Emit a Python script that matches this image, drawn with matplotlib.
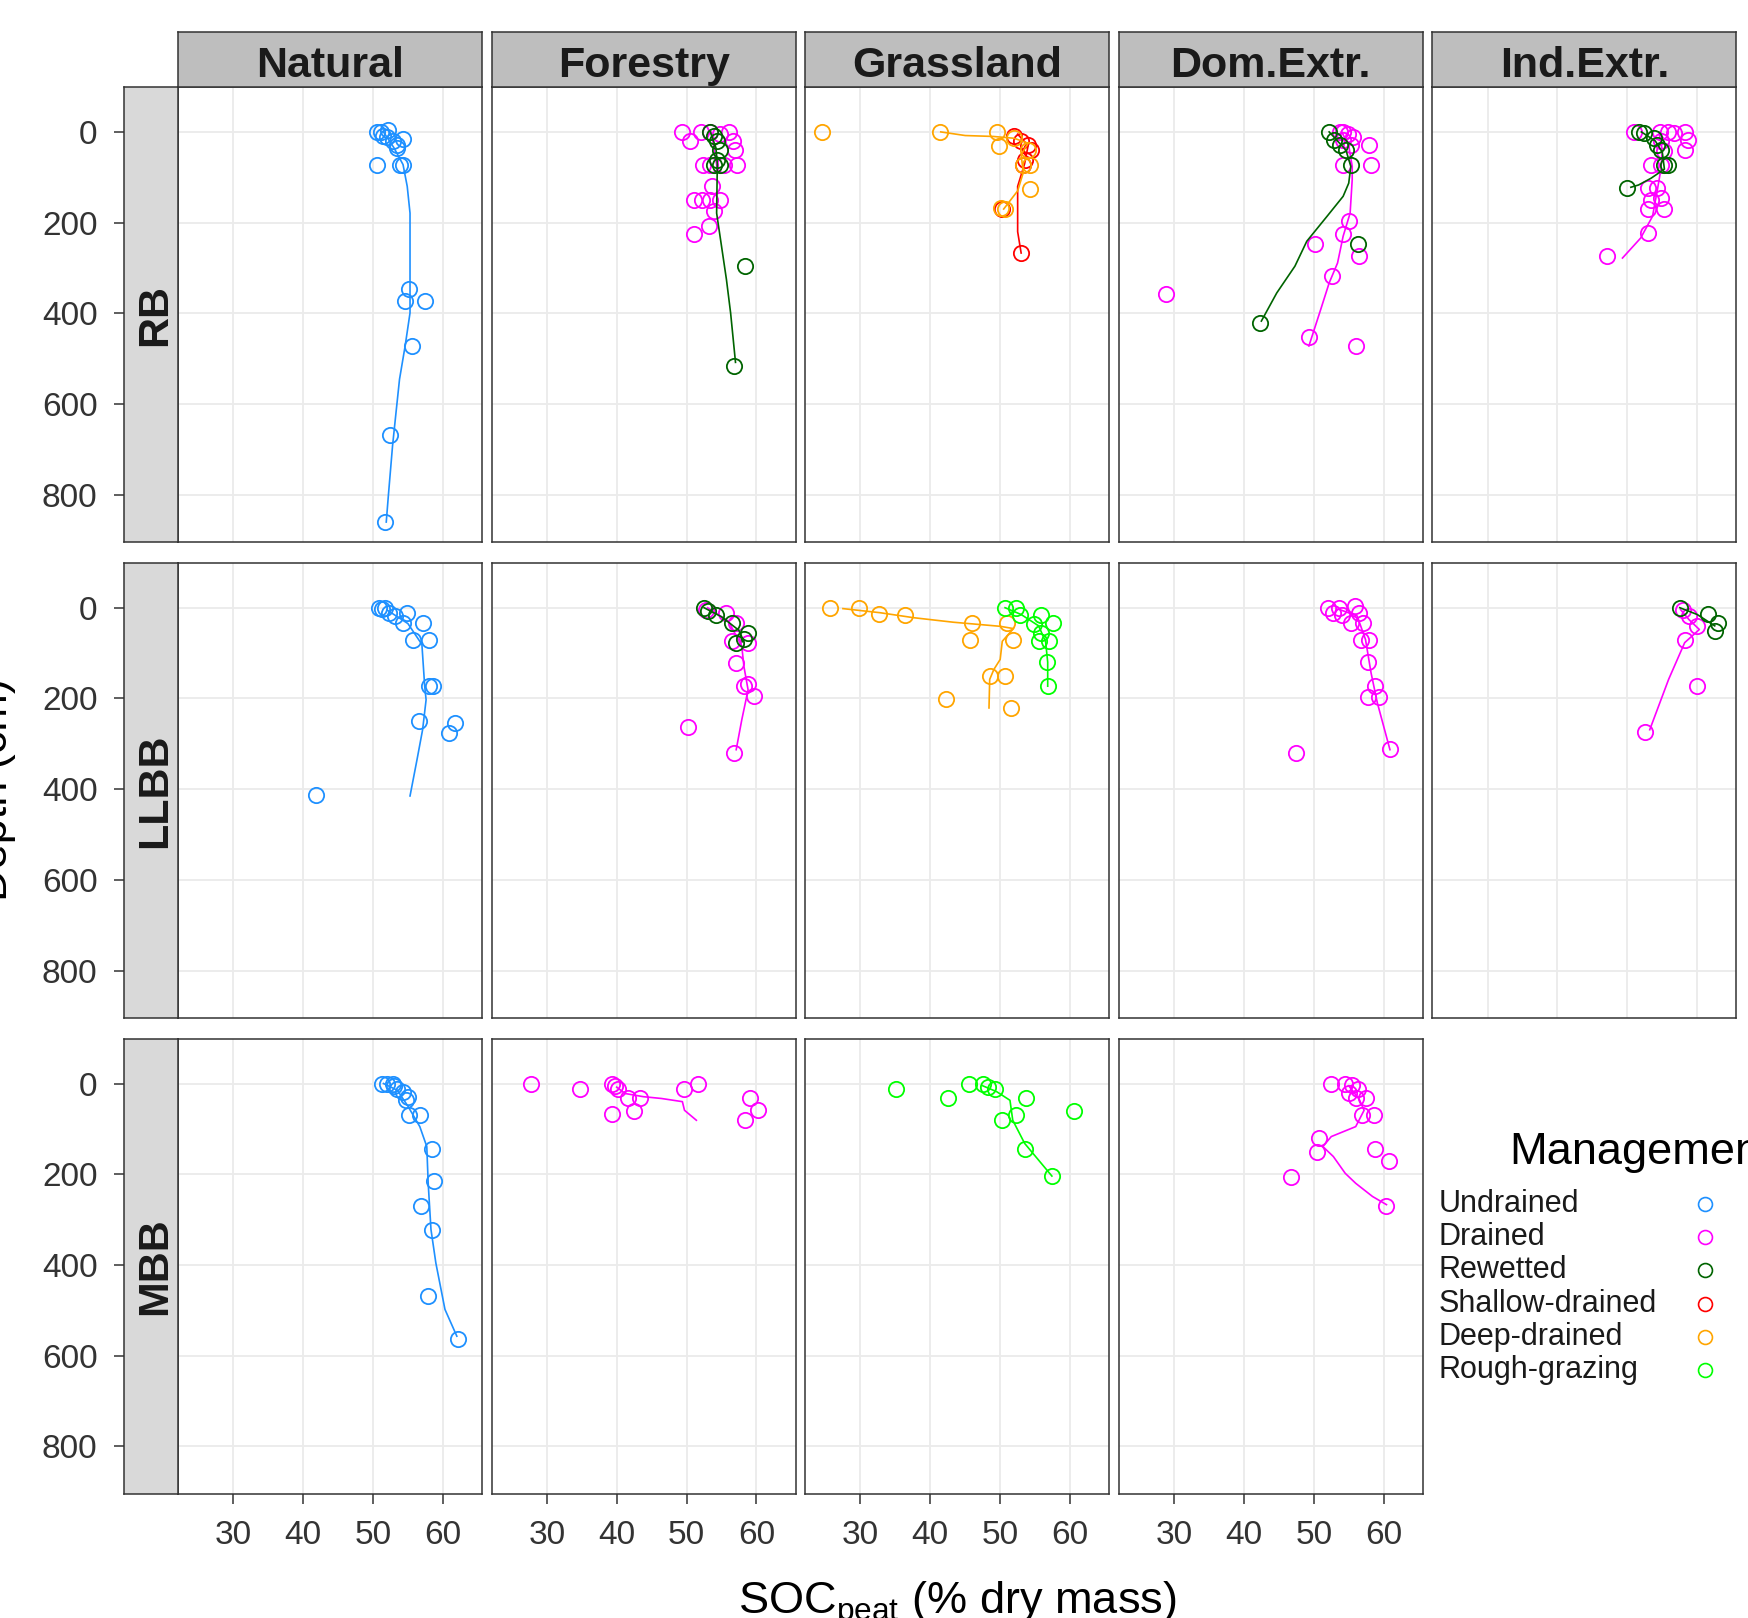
import matplotlib
matplotlib.use("Agg")
import matplotlib.pyplot as plt

plt.rcParams['font.family'] = ['Liberation Sans', 'DejaVu Sans']
plt.rcParams['mathtext.fontset'] = 'custom'
plt.rcParams['mathtext.rm'] = 'Liberation Sans'

# facets
rows = ["RB", "LLBB", "MBB"]
cols = ["Natural", "Forestry", "Grassland", "Dom.Extr.", "Ind.Extr."]
managements = ["Undrained", "Drained", "Rewetted", "Shallow-drained", "Deep-drained", "Rough-grazing"]
colours = ["#1E90FF", "#FF00FF", "#006400", "#FF0000", "#FFA500", "#00FF00"]
x_ticks = [30, 40, 50, 60]
y_ticks = [0, 200, 400, 600, 800]

# ---- RB ----
rb_nat_und_soc = [50.6, 51.2, 52.2, 51.5, 52.0, 52.8, 53.4, 54.3, 53.4, 50.6, 53.9, 54.3, 55.1, 54.6, 57.4, 55.6, 52.4, 51.7]
rb_nat_und_dep = [0, 0, -4, 8, 12, 20, 28, 15, 35, 73, 73, 73, 347, 373, 373, 472, 668, 859]
rb_nat_und_fit_soc = [51.5, 53.0, 54.3, 54.9, 55.3, 55.3, 54.6, 53.8, 53.3, 52.8, 52.2, 51.9]
rb_nat_und_fit_dep = [0, 35, 72, 120, 179, 399, 472, 545, 618, 692, 802, 860]

rb_for_dra_soc = [49.3, 50.5, 52.0, 53.4, 54.8, 56.0, 56.7, 57.0, 57.2, 55.3, 53.4, 52.4, 53.6, 51.0, 52.2, 54.8, 53.4, 53.9, 53.2, 51.0]
rb_for_dra_dep = [0, 21, 0, 0, 5, 0, 21, 39, 72, 72, 72, 72, 120, 149, 149, 149, 149, 175, 208, 224]
rb_for_dra_fit_soc = [53.5, 54.0, 54.3]
rb_for_dra_fit_dep = [0, 40, 72]
rb_for_rew_soc = [53.4, 53.9, 54.4, 54.8, 54.4, 53.9, 54.8, 58.4, 56.8]
rb_for_rew_dep = [0, 10, 21, 39, 61, 72, 72, 296, 516]
rb_for_rew_fit_soc = [53.4, 54.2, 54.4, 54.3, 55.0, 55.7, 56.3, 57.0]
rb_for_rew_fit_dep = [0, 35, 70, 179, 252, 325, 399, 508]

rb_gra_sha_soc = [52.0, 53.0, 54.0, 54.4, 53.5, 53.2, 53.0, 50.3]
rb_gra_sha_dep = [8, 21, 28, 39, 61, 72, 267, 171]
rb_gra_sha_fit_soc = [52.5, 54.0, 53.5, 52.5, 52.5, 53.0]
rb_gra_sha_fit_dep = [5, 30, 70, 120, 220, 267]
rb_gra_dee_soc = [24.5, 41.4, 49.5, 49.9, 52.0, 54.0, 54.2, 53.2, 54.2, 50.1, 50.7]
rb_gra_dee_dep = [0, 0, 0, 32, 14, 40, 73, 73, 126, 168, 171]
rb_gra_dee_fit_soc = [41.5, 45.0, 49.0, 52.0, 54.0, 53.0, 53.3, 52.5, 50.5]
rb_gra_dee_fit_dep = [0, 8, 10, 14, 25, 50, 90, 130, 170]

rb_dom_dra_soc = [53.8, 54.2, 54.9, 55.6, 54.2, 55.3, 57.9, 54.2, 58.2, 55.0, 54.2, 56.5, 50.2, 52.6, 49.3, 56.0, 28.8]
rb_dom_dra_dep = [0, 0, 4, 11, 18, 28, 28, 72, 72, 197, 224, 274, 248, 318, 453, 472, 358]
rb_dom_dra_fit_soc = [54.0, 55.0, 55.5, 55.5, 55.2, 54.2, 53.4, 52.2, 51.0, 49.3]
rb_dom_dra_fit_dep = [0, 30, 76, 105, 179, 230, 289, 333, 391, 472]
rb_dom_rew_soc = [52.2, 52.9, 53.8, 54.6, 55.3, 56.3, 42.3]
rb_dom_rew_dep = [0, 18, 28, 40, 72, 248, 421]
rb_dom_rew_fit_soc = [52.2, 54.6, 55.3, 55.0, 54.2, 51.9, 49.0, 47.3, 44.7, 42.5]
rb_dom_rew_fit_dep = [0, 40, 76, 113, 142, 186, 241, 296, 355, 417]

rb_ind_dra_soc = [51.0, 54.6, 55.8, 56.7, 58.2, 58.7, 58.2, 54.8, 55.3, 53.4, 54.8, 52.9, 54.3, 54.8, 53.4, 52.9, 55.3, 52.9, 47.1]
rb_ind_dra_dep = [0, 0, 0, 2, 0, 18, 39, 21, 42, 72, 72, 124, 124, 146, 149, 171, 171, 223, 273]
rb_ind_dra_fit_soc = [54.5, 55.0, 54.8, 54.3, 53.6, 51.9, 49.3]
rb_ind_dra_fit_dep = [0, 40, 82, 127, 186, 234, 278]
rb_ind_rew_soc = [51.7, 52.4, 53.8, 54.3, 54.8, 55.3, 55.8, 50.0]
rb_ind_rew_dep = [0, 2, 14, 28, 39, 72, 72, 124]
rb_ind_rew_fit_soc = [52.0, 54.0, 55.0, 55.3, 53.4, 51.6, 50.5]
rb_ind_rew_fit_dep = [0, 20, 45, 82, 102, 117, 122]

# ---- LLBB ----
ll_nat_und_soc = [50.8, 51.7, 51.3, 52.3, 53.1, 54.8, 54.3, 57.1, 55.7, 58.0, 58.0, 58.6, 56.6, 61.7, 60.9, 41.9]
ll_nat_und_dep = [0, 0, 3, 11, 18, 11, 33, 33, 72, 72, 173, 173, 250, 254, 276, 412]
ll_nat_und_fit_soc = [52.0, 55.0, 57.0, 57.4, 57.6, 57.1, 56.3, 55.3]
ll_nat_und_fit_dep = [5, 35, 81, 173, 203, 269, 335, 415]

ll_for_dra_soc = [52.8, 55.6, 57.1, 56.5, 58.8, 57.1, 58.8, 58.2, 59.7, 50.2, 56.8]
ll_for_dra_dep = [4, 11, 33, 74, 77, 122, 169, 173, 195, 264, 320]
ll_for_dra_fit_soc = [53.0, 56.0, 57.9, 58.2, 58.8, 57.9, 57.1]
ll_for_dra_fit_dep = [0, 30, 85, 129, 181, 247, 313]
ll_for_rew_soc = [52.5, 53.1, 54.2, 56.5, 58.8, 57.1, 58.2]
ll_for_rew_dep = [0, 7, 15, 33, 55, 77, 70]
ll_for_rew_fit_soc = [52.5, 55.0, 57.5, 58.0]
ll_for_rew_fit_dep = [0, 20, 50, 75]

ll_gra_dee_soc = [25.7, 29.8, 32.6, 36.4, 46.0, 45.7, 51.0, 51.8, 48.5, 50.7, 42.3, 51.6]
ll_gra_dee_dep = [0, 0, 13, 15, 33, 72, 33, 72, 150, 150, 201, 221]
ll_gra_dee_fit_soc = [27.5, 32.8, 37.6, 43.3, 50.0, 51.9, 50.3, 50.0, 49.1, 48.5, 48.4]
ll_gra_dee_fit_dep = [2, 11, 22, 32, 41, 46, 74, 114, 136, 158, 221]
ll_gra_rou_soc = [50.7, 52.2, 52.9, 55.8, 57.5, 54.8, 55.8, 55.5, 57.0, 56.7, 56.8]
ll_gra_rou_dep = [0, 0, 15, 15, 33, 37, 55, 74, 74, 120, 173]
ll_gra_rou_fit_soc = [50.7, 53.0, 55.5, 56.5, 56.8, 56.8]
ll_gra_rou_fit_dep = [0, 15, 40, 75, 120, 173]

ll_dom_dra_soc = [52.1, 53.6, 55.9, 52.7, 54.1, 56.5, 55.3, 57.1, 56.8, 57.9, 57.8, 58.7, 57.7, 59.4, 60.9, 47.5]
ll_dom_dra_dep = [0, 0, -3, 11, 15, 11, 33, 33, 72, 72, 120, 173, 197, 197, 312, 320]
ll_dom_dra_fit_soc = [53.5, 56.2, 57.4, 58.2, 59.1, 60.9]
ll_dom_dra_fit_dep = [3, 18, 70, 144, 210, 313]

ll_ind_dra_soc = [57.9, 58.8, 60.0, 58.2, 60.0, 52.5]
ll_ind_dra_dep = [4, 18, 41, 72, 173, 273]
ll_ind_dra_fit_soc = [57.6, 58.8, 60.3, 58.2, 55.9, 53.2]
ll_ind_dra_fit_dep = [4, 26, 48, 77, 158, 269]
ll_ind_rew_soc = [57.5, 61.5, 62.9, 62.6]
ll_ind_rew_dep = [0, 13, 33, 52]
ll_ind_rew_fit_soc = [57.5, 60.0, 62.5]
ll_ind_rew_fit_dep = [0, 15, 40]

# ---- MBB ----
mb_nat_und_soc = [51.3, 52.0, 52.8, 53.0, 53.4, 54.3, 55.0, 54.7, 55.1, 56.7, 58.4, 58.7, 56.9, 58.4, 57.9, 62.1]
mb_nat_und_dep = [0, 2, 0, 6, 11, 18, 29, 37, 70, 70, 145, 216, 270, 322, 469, 563]
mb_nat_und_fit_soc = [51.5, 53.5, 55.0, 56.7, 57.7, 57.9, 58.3, 59.0, 60.3, 62.0]
mb_nat_und_fit_dep = [0, 15, 50, 95, 139, 220, 322, 396, 498, 557]

mb_for_dra_soc = [27.8, 34.7, 39.3, 39.7, 40.2, 41.6, 43.4, 42.5, 39.3, 49.7, 51.6, 59.1, 60.2, 58.3]
mb_for_dra_dep = [2, 13, 0, 6, 13, 33, 33, 61, 68, 13, 2, 31, 59, 81]
mb_for_dra_fit_soc = [40.0, 41.2, 43.8, 46.4, 49.4, 49.7, 51.4]
mb_for_dra_fit_dep = [8, 22, 29, 33, 40, 59, 81]

mb_gra_rou_soc = [35.1, 42.5, 45.6, 47.5, 48.3, 49.2, 53.7, 52.2, 50.3, 53.5, 57.4, 60.6]
mb_gra_rou_dep = [13, 31, 0, 0, 7, 13, 31, 70, 81, 145, 204, 60]
mb_gra_rou_fit_soc = [47.5, 49.5, 51.4, 51.8, 53.5, 57.4]
mb_gra_rou_fit_dep = [5, 18, 37, 81, 132, 204]

mb_dom_dra_soc = [52.5, 54.5, 55.4, 56.3, 55.1, 56.0, 57.5, 56.9, 58.6, 50.7, 50.4, 58.8, 60.7, 46.7, 60.4]
mb_dom_dra_dep = [2, 0, 4, 11, 22, 33, 33, 70, 70, 121, 150, 145, 170, 207, 270]
mb_dom_dra_fit_soc = [55.0, 56.5, 57.2, 56.0, 52.5, 51.3, 52.8, 54.5, 56.0, 58.4, 60.4]
mb_dom_dra_fit_dep = [5, 35, 59, 95, 117, 139, 161, 198, 220, 249, 267]

# (row, column, management, points soc, points depth, fit soc, fit depth)
series = [
    ("RB", "Natural", "Undrained", rb_nat_und_soc, rb_nat_und_dep, rb_nat_und_fit_soc, rb_nat_und_fit_dep),
    ("RB", "Forestry", "Drained", rb_for_dra_soc, rb_for_dra_dep, rb_for_dra_fit_soc, rb_for_dra_fit_dep),
    ("RB", "Forestry", "Rewetted", rb_for_rew_soc, rb_for_rew_dep, rb_for_rew_fit_soc, rb_for_rew_fit_dep),
    ("RB", "Grassland", "Shallow-drained", rb_gra_sha_soc, rb_gra_sha_dep, rb_gra_sha_fit_soc, rb_gra_sha_fit_dep),
    ("RB", "Grassland", "Deep-drained", rb_gra_dee_soc, rb_gra_dee_dep, rb_gra_dee_fit_soc, rb_gra_dee_fit_dep),
    ("RB", "Dom.Extr.", "Drained", rb_dom_dra_soc, rb_dom_dra_dep, rb_dom_dra_fit_soc, rb_dom_dra_fit_dep),
    ("RB", "Dom.Extr.", "Rewetted", rb_dom_rew_soc, rb_dom_rew_dep, rb_dom_rew_fit_soc, rb_dom_rew_fit_dep),
    ("RB", "Ind.Extr.", "Drained", rb_ind_dra_soc, rb_ind_dra_dep, rb_ind_dra_fit_soc, rb_ind_dra_fit_dep),
    ("RB", "Ind.Extr.", "Rewetted", rb_ind_rew_soc, rb_ind_rew_dep, rb_ind_rew_fit_soc, rb_ind_rew_fit_dep),
    ("LLBB", "Natural", "Undrained", ll_nat_und_soc, ll_nat_und_dep, ll_nat_und_fit_soc, ll_nat_und_fit_dep),
    ("LLBB", "Forestry", "Drained", ll_for_dra_soc, ll_for_dra_dep, ll_for_dra_fit_soc, ll_for_dra_fit_dep),
    ("LLBB", "Forestry", "Rewetted", ll_for_rew_soc, ll_for_rew_dep, ll_for_rew_fit_soc, ll_for_rew_fit_dep),
    ("LLBB", "Grassland", "Deep-drained", ll_gra_dee_soc, ll_gra_dee_dep, ll_gra_dee_fit_soc, ll_gra_dee_fit_dep),
    ("LLBB", "Grassland", "Rough-grazing", ll_gra_rou_soc, ll_gra_rou_dep, ll_gra_rou_fit_soc, ll_gra_rou_fit_dep),
    ("LLBB", "Dom.Extr.", "Drained", ll_dom_dra_soc, ll_dom_dra_dep, ll_dom_dra_fit_soc, ll_dom_dra_fit_dep),
    ("LLBB", "Ind.Extr.", "Drained", ll_ind_dra_soc, ll_ind_dra_dep, ll_ind_dra_fit_soc, ll_ind_dra_fit_dep),
    ("LLBB", "Ind.Extr.", "Rewetted", ll_ind_rew_soc, ll_ind_rew_dep, ll_ind_rew_fit_soc, ll_ind_rew_fit_dep),
    ("MBB", "Natural", "Undrained", mb_nat_und_soc, mb_nat_und_dep, mb_nat_und_fit_soc, mb_nat_und_fit_dep),
    ("MBB", "Forestry", "Drained", mb_for_dra_soc, mb_for_dra_dep, mb_for_dra_fit_soc, mb_for_dra_fit_dep),
    ("MBB", "Grassland", "Rough-grazing", mb_gra_rou_soc, mb_gra_rou_dep, mb_gra_rou_fit_soc, mb_gra_rou_fit_dep),
    ("MBB", "Dom.Extr.", "Drained", mb_dom_dra_soc, mb_dom_dra_dep, mb_dom_dra_fit_soc, mb_dom_dra_fit_dep),
]
missing = [("MBB", "Ind.Extr.")]

W, H = 1749, 1618
DARK = "#333333"


def box(x0, y0, w, h):
    # pixel box (from top-left) -> figure fraction
    return [x0 / W, 1 - (y0 + h) / H, w / W, h / H]


def frame(ax):
    for s in ax.spines.values():
        s.set_color(DARK)
        s.set_linewidth(1.1)


fig = plt.figure(figsize=(W / 100, H / 100), dpi=100)

px_left, px_step, px_w = 178, 313.6, 304
py_top, py_step, py_h = 87, 475.8, 455
xlim = (22.1, 65.6)
ylim = (904, -99)

axes = {}
for r, rname in enumerate(rows):
    for c, cname in enumerate(cols):
        if (rname, cname) in missing:
            continue
        ax = fig.add_axes(box(px_left + c * px_step, py_top + r * py_step, px_w, py_h))
        ax.set_xlim(*xlim)
        ax.set_ylim(*ylim)
        ax.set_xticks(x_ticks)
        ax.set_yticks(y_ticks)
        ax.grid(True, color="#EBEBEB", linewidth=1.3)
        ax.set_axisbelow(True)
        ax.tick_params(axis="y", length=0, labelleft=False)
        if r == len(rows) - 1:
            ax.tick_params(axis="x", length=7, width=1.1, color=DARK, labelsize=24,
                           labelcolor=DARK, pad=12)
        else:
            ax.tick_params(axis="x", length=0, labelbottom=False)
        frame(ax)
        axes[(rname, cname)] = ax

    # row strip carries the y axis
    sax = fig.add_axes(box(124, py_top + r * py_step, 54, py_h))
    sax.set_facecolor("#D9D9D9")
    sax.set_ylim(*ylim)
    sax.set_xticks([])
    sax.set_yticks(y_ticks)
    sax.tick_params(axis="y", length=7, width=1.1, color=DARK, labelsize=24,
                    labelcolor=DARK, pad=12)
    frame(sax)
    sax.text(0.58, 0.5, rname, transform=sax.transAxes, rotation=90, ha="center",
             va="center", fontsize=31, fontweight="bold", color="#1A1A1A")

for c, cname in enumerate(cols):
    cax = fig.add_axes(box(px_left + c * px_step, 32, px_w, 55))
    cax.set_facecolor("#BEBEBE")
    cax.set_xticks([])
    cax.set_yticks([])
    frame(cax)
    cax.text(0.5, 0.38, cname, transform=cax.transAxes, ha="center", va="center",
             fontsize=31, fontweight="bold", color="#1A1A1A")

for rname, cname, mgmt, soc, dep, fsoc, fdep in series:
    ax = axes[(rname, cname)]
    col = colours[managements.index(mgmt)]
    ax.plot(soc, dep, linestyle="none", marker="o", markersize=11, markerfacecolor="none",
            markeredgecolor=col, markeredgewidth=1.3)
    ax.plot(fsoc, fdep, color=col, linewidth=1.2)

# axis titles
fig.text(957 / W, 1 - 1614 / H, r"SOC$_{\mathrm{peat}}$ (% dry mass)", ha="center",
         va="baseline", fontsize=32.5, color="black")
fig.text(16 / W, 1 - 790 / H, "Depth (cm)", rotation=90, ha="right", va="center",
         fontsize=32.5, color="black")

# legend
fig.text(1509 / W, 1 - 1164 / H, "Management", ha="left", va="baseline", fontsize=32.5)
lax = fig.add_axes([0, 0, 1, 1])
lax.set_xlim(0, W)
lax.set_ylim(H, 0)
lax.axis("off")
for i, (m, col) in enumerate(zip(managements, colours)):
    yy = 1204 + i * 33.2
    lax.text(1439, yy, m, ha="left", va="center", fontsize=22, color="#1A1A1A")
    lax.plot([1705], [yy], linestyle="none", marker="o", markersize=10,
             markerfacecolor="none", markeredgecolor=col, markeredgewidth=1.2)

fig.savefig("out.png", dpi=100)
